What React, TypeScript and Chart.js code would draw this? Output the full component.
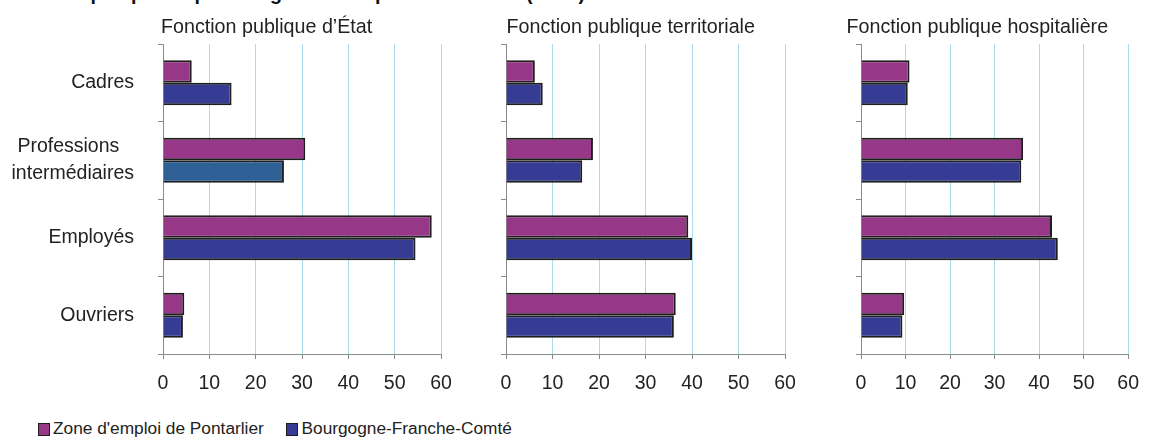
import React, { useEffect, useRef } from 'react';
import { Chart, registerables } from 'chart.js';

Chart.register(...registerables);

// ---------- data ----------
const categories: (string | string[])[] = ['Cadres', ['Professions  \u2009', 'intermédiaires'], 'Employés', 'Ouvriers'];
const seriesNames = ["Zone d'emploi de Pontarlier", 'Bourgogne-Franche-Comté'];
const panelTitles = ['Fonction publique d’État', 'Fonction publique territoriale', 'Fonction publique hospitalière'];
const mainTitle = 'Emploi public par catégorie socioprofessionnelle (en %)';

const etatZone = [6.2, 30.7, 58.0, 4.6];
const etatRegion = [14.8, 26.1, 54.5, 4.3];
const territorialeZone = [6.2, 18.7, 39.2, 36.5];
const territorialeRegion = [7.9, 16.4, 40.0, 36.1];
const hospitaliereZone = [10.9, 36.4, 42.9, 9.7];
const hospitaliereRegion = [10.5, 36.0, 44.2, 9.3];

const xTickValues = [0, 10, 20, 30, 40, 50, 60];

// ---------- styles ----------
const FONT = '"Liberation Sans", Arial, Helvetica, sans-serif';
const PINK = '#963787';
const BLUE = '#363c94';
const BLUE_ALT = '#2e6096';
const BAR_BORDER = '#1e1e1e';
const AXIS_GREY = '#8a8a8a';
const GRID_BLUE = '#aadcec';
const TEXT = '#222222';

const CANVAS_H = 400;
const PLOT_TOP = 44;
const PLOT_BOTTOM = 354;

type PanelProps = {
  zone: number[];
  region: number[];
  regionColors: string[];
  showLabels: boolean;
  left: number;
  width: number;
  plotLeft: number;
  plotRight: number;
};

function Panel({ zone, region, regionColors, showLabels, left, width, plotLeft, plotRight }: PanelProps) {
  const ref = useRef<HTMLCanvasElement | null>(null);
  useEffect(() => {
    if (!ref.current) return;
    const yAxisWidth = plotLeft - left;
    const chart = new Chart(ref.current, {
      type: 'bar',
      data: {
        labels: categories as any,
        datasets: [
          {
            label: seriesNames[0],
            data: zone,
            backgroundColor: PINK,
            borderColor: BAR_BORDER,
            borderWidth: 2,
            barPercentage: 1,
            categoryPercentage: 0.58,
          },
          {
            label: seriesNames[1],
            data: region,
            backgroundColor: regionColors,
            borderColor: BAR_BORDER,
            borderWidth: 2,
            barPercentage: 1,
            categoryPercentage: 0.58,
          },
        ],
      },
      options: {
        indexAxis: 'y',
        animation: false,
        responsive: false,
        maintainAspectRatio: false,
        layout: { padding: { top: PLOT_TOP, right: left + width - plotRight, left: 0, bottom: 0 } },
        plugins: {
          legend: { display: false },
          tooltip: { enabled: false },
          title: { display: false },
        },
        scales: {
          x: {
            type: 'linear',
            position: 'bottom',
            min: xTickValues[0],
            max: xTickValues[xTickValues.length - 1],
            ticks: {
              stepSize: xTickValues[1] - xTickValues[0],
              color: TEXT,
              font: { family: FONT, size: 19.5 },
              padding: 13,
              maxRotation: 0,
              autoSkip: false,
            },
            grid: {
              color: (ctx: any) => (ctx.tick && ctx.tick.value === 0 ? 'rgba(0,0,0,0)' : GRID_BLUE),
              tickColor: AXIS_GREY,
              tickLength: 5,
              lineWidth: 1,
            },
            border: { color: AXIS_GREY, width: 1 },
            afterFit: (s: any) => {
              s.height = CANVAS_H - PLOT_BOTTOM;
            },
          },
          y: {
            type: 'category',
            position: 'left',
            offset: true,
            grid: {
              offset: true,
              drawOnChartArea: false,
              tickColor: AXIS_GREY,
              tickLength: 5,
            },
            border: { color: AXIS_GREY, width: 1 },
            ticks: {
              display: showLabels,
              color: TEXT,
              font: { family: FONT, size: 19.5, lineHeight: 1.37 },
              padding: 24,
              autoSkip: false,
            },
            afterFit: (s: any) => {
              s.width = yAxisWidth;
            },
          },
        },
      } as any,
    });
    return () => chart.destroy();
  }, []);
  return (
    <canvas
      ref={ref}
      width={width}
      height={CANVAS_H}
      style={{ position: 'absolute', left, top: 0, width, height: CANVAS_H, display: 'block' }}
    />
  );
}

export default function App() {
  const titleStyle = (left: number): React.CSSProperties => ({
    position: 'absolute',
    left,
    top: 17,
    fontSize: 19.7,
    lineHeight: '19px',
    color: TEXT,
    whiteSpace: 'nowrap',
  });
  return (
    <div
      style={{
        position: 'absolute',
        left: 0,
        top: 0,
        width: 1152,
        height: 437,
        overflow: 'hidden',
        background: '#ffffff',
        fontFamily: FONT,
      }}
    >
      <div
        style={{
          position: 'absolute',
          right: 1152 - 585,
          top: -17,
          fontSize: 19.7,
          lineHeight: '20px',
          fontWeight: 'bold',
          color: '#111',
          whiteSpace: 'nowrap',
        }}
      >
        {mainTitle}
      </div>

      <Panel zone={etatZone} region={etatRegion} regionColors={[BLUE, BLUE_ALT, BLUE, BLUE]} showLabels={true}
        left={0} width={470} plotLeft={163} plotRight={441} />
      <Panel zone={territorialeZone} region={territorialeRegion} regionColors={[BLUE, BLUE, BLUE, BLUE]} showLabels={false}
        left={480} width={330} plotLeft={506} plotRight={785} />
      <Panel zone={hospitaliereZone} region={hospitaliereRegion} regionColors={[BLUE, BLUE, BLUE, BLUE]} showLabels={false}
        left={835} width={317} plotLeft={861} plotRight={1140} />

      <div style={titleStyle(161)}>{panelTitles[0]}</div>
      <div style={titleStyle(506.5)}>{panelTitles[1]}</div>
      <div style={titleStyle(846.5)}>{panelTitles[2]}</div>

      <div style={{ position: 'absolute', left: 38, top: 423, width: 12, height: 13, boxSizing: 'border-box', background: PINK, border: `1px solid ${BAR_BORDER}` }} />
      <div style={{ position: 'absolute', left: 53, top: 420, fontSize: 17.3, lineHeight: '17px', color: TEXT, whiteSpace: 'nowrap' }}>{seriesNames[0]}</div>
      <div style={{ position: 'absolute', left: 286, top: 423, width: 12, height: 13, boxSizing: 'border-box', background: BLUE, border: `1px solid ${BAR_BORDER}` }} />
      <div style={{ position: 'absolute', left: 301.5, top: 420, fontSize: 17.3, lineHeight: '17px', color: TEXT, whiteSpace: 'nowrap' }}>{seriesNames[1]}</div>
    </div>
  );
}
